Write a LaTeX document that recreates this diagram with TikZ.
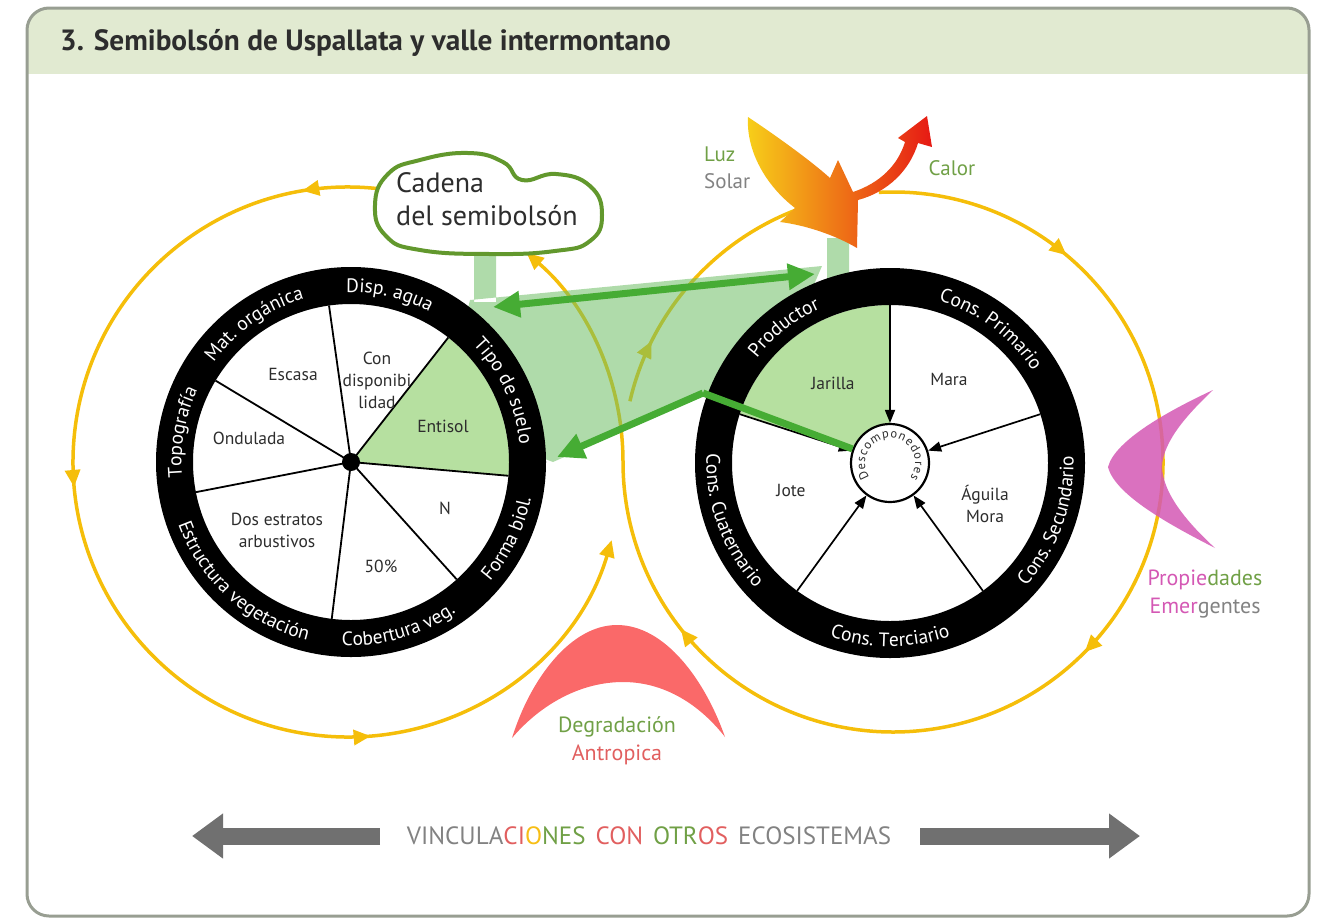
\documentclass[tikz,border=0pt]{standalone}
\usepackage{fontspec}
\setmainfont{PT Sans}
\usetikzlibrary{arrows.meta,decorations.text,decorations.markings}

\definecolor{titleband}{RGB}{225,234,209}
\definecolor{framegray}{RGB}{152,158,146}
\definecolor{flowyellow}{RGB}{245,190,10}
\definecolor{linkgreen}{RGB}{70,172,52}
\definecolor{zonegreen}{RGB}{110,190,100}
\definecolor{sectorgreen}{RGB}{182,224,160}
\definecolor{bubblegreen}{RGB}{98,152,45}
\definecolor{sunyellow}{RGB}{247,208,25}
\definecolor{sunorange}{RGB}{247,190,22}
\definecolor{sunred}{RGB}{230,25,20}
\definecolor{degred}{RGB}{250,105,105}
\definecolor{emmagenta}{RGB}{212,88,180}
\definecolor{textgray}{RGB}{45,45,45}
\definecolor{softgreen}{RGB}{112,160,70}
\definecolor{softgray}{RGB}{130,130,130}
\definecolor{softred}{RGB}{225,95,95}
\definecolor{arrowgray}{RGB}{112,112,112}

\newcommand{\ringfont}{\color{white}\fontsize{19.5}{19.5}\selectfont}
\newcommand{\sectfont}{\fontsize{17.5}{22}\selectfont}
\newcommand{\notefont}{\fontsize{22}{28}\selectfont}
% labels on the black rings
\newcommand{\cwlabel}[3]{\path[shift={(#1)}, decorate, decoration={text along path, text={|\ringfont|#3}, text align=center}] (#2+60:169.5) arc[start angle=#2+60, end angle=#2-60, radius=169.5];}
\newcommand{\ccwlabel}[3]{\path[shift={(#1)}, decorate, decoration={text along path, text={|\ringfont|#3}, text align=center}] (#2-60:183.5) arc[start angle=#2-60, end angle=#2+60, radius=183.5];}

\tikzset{
  flowline/.style={flowyellow, line width=3.5pt},
  flowhead/.style={-{Triangle[length=17pt,width=15pt]}},
  greenlink/.style={linkgreen, line width=7pt},
  linkhead/.style={-{Triangle[length=27pt,width=25pt]}},
  spokearrow/.style={line width=1.7pt, -{Triangle[length=13pt,width=10pt]}},
  sectortext/.style={font=\sectfont, text=textgray, align=center, inner sep=0pt},
  notetext/.style={font=\notefont, align=center, inner sep=0pt},
  widearrow/.style={arrowgray, line width=17pt, -{Triangle[length=31pt,width=43pt]}},
  decomp/.style={circle, draw, line width=2.2pt, fill=white, minimum size=78pt, inner sep=0pt}
}

\begin{document}
\begin{tikzpicture}[x=1pt,y=1pt]
\useasboundingbox (0,0) rectangle (1324,-919);

% frame
\begin{scope}
\clip[rounded corners=22pt] (27,-8) rectangle (1309,-916);
\fill[titleband] (27,-8) rectangle (1309,-74);
\end{scope}
\draw[framegray, line width=3pt, rounded corners=22pt] (27,-8) rectangle (1309,-916);
\node[anchor=base west, inner sep=0pt, text=textgray, font=\fontsize{29.3}{32}\selectfont\bfseries] (title) at (60,-50) {3. Semibolsón de Uspallata y valle intermontano};

% centres
\coordinate (lc) at (351,-462);
\coordinate (rc) at (890,-463);
\coordinate (lflow) at (348,-462);
\coordinate (rflow) at (893,-462);

% yellow loops
\draw[flowline, flowhead, shift={(lflow)}, postaction={decorate}, decoration={markings,
  mark=at position 0.06 with {\arrow{Triangle[length=17pt,width=15pt]}},
  mark=at position 0.39 with {\arrow{Triangle[length=17pt,width=15pt]}},
  mark=at position 0.735 with {\arrow{Triangle[length=17pt,width=15pt]}}}]
  (84:275) arc[start angle=84, end angle=343.5, radius=275];
\draw[flowline, flowhead, shift={(rflow)}, postaction={decorate}, decoration={markings,
  mark=at position 0.133 with {\arrow{Triangle[length=17pt,width=15pt]}},
  mark=at position 0.426 with {\arrow{Triangle[length=17pt,width=15pt]}},
  mark=at position 0.726 with {\arrow{Triangle[length=17pt,width=15pt]}}}]
  (93:270) arc[start angle=93, end angle=-180, radius=270]
  arc[start angle=0, end angle=49.5, radius=275];
% luz solar
\draw[flowline, shift={(rflow)}, postaction={decorate}, decoration={markings,
  mark=at position 0.22 with {\arrow{Triangle[length=17pt,width=15pt]}}}]
  (167:270) arc[start angle=167, end angle=105, radius=270];

% green zone between the wheels
\fill[zonegreen, opacity=0.55] (474,-248) rectangle (496,-302) (827,-238) rectangle (849,-280)
  (470,-300) -- (822,-266) -- (790,-340) -- (703,-396) -- (553,-462) -- (440,-420) -- cycle;

% left wheel
\fill[white] (lc) circle[radius=158];
\fill[sectorgreen] (lc) -- ++(52:158) arc[start angle=52, end angle=-5, radius=158] -- cycle;
\foreach \a in {98,52,-5,-48,-97,-169,149}
  \draw[line width=1.8pt] (lc) -- ++(\a:158);
\fill (lc) circle[radius=9];
\draw[line width=37pt] (lc) circle[radius=176.5];
\cwlabel{lc}{125}{Mat. orgánica}
\cwlabel{lc}{77}{Disp. agua}
\cwlabel{lc}{25}{Tipo de suelo}
\ccwlabel{lc}{-26}{Forma biol.}
\ccwlabel{lc}{-74}{Cobertura veg.}
\ccwlabel{lc}{-132}{Estructura vegetación}
\cwlabel{lc}{170}{Topografía}

\node[sectortext] (escasa) at (293,-374) {Escasa};
\node[sectortext] (condisp) at (377,-380) {Con\\disponibi\\lidad};
\node[sectortext] (entisol) at (443,-426) {Entisol};
\node[sectortext] (ondulada) at (249,-438) {Ondulada};
\node[sectortext] (nform) at (445,-508) {N};
\node[sectortext] (dosestratos) at (277,-530) {Dos estratos\\arbustivos};
\node[sectortext] (cober) at (381,-566) {50\%};

% right wheel
\fill[white] (rc) circle[radius=158];
\fill[sectorgreen] (rc) -- ++(90:158) arc[start angle=90, end angle=162, radius=158] -- cycle;
\node[decomp] (dsc) at (rc) {};
\foreach \a [count=\i] in {90,18,-54,-126,162} {
  \path (rc) ++(\a:158) coordinate (sp\i);
  \draw[spokearrow] (sp\i) -- (dsc);
}
\draw[line width=37pt] (rc) circle[radius=176.5];
\path[shift={(dsc)}, decorate, decoration={text along path, text={|\color{textgray}\fontsize{12.5}{12.5}\selectfont|Descomponedores}, text align=fit to path}]
  (215:25) arc[start angle=215, end angle=-36, radius=25];
\cwlabel{rc}{128}{Productor}
\cwlabel{rc}{53}{Cons. Primario}
\ccwlabel{rc}{-20}{Cons. Secundario}
\ccwlabel{rc}{-90}{Cons. Terciario}
\ccwlabel{rc}{-160}{Cons. Cuaternario}

\node[sectortext] (jarilla) at (833,-383) {Jarilla};
\node[sectortext] (mara) at (949,-379) {Mara};
\node[sectortext] (jote) at (791,-490) {Jote};
\node[sectortext] (aguila) at (985,-504) {Águila\\Mora};

% green links
\coordinate (linkl) at (493,-307);
\coordinate (linkr) at (815,-274);
\coordinate (gj) at (703,-393);
\coordinate (soilend) at (557,-457);
\draw[greenlink, {Triangle[length=27pt,width=25pt]}-{Triangle[length=27pt,width=25pt]}] (linkl) -- (linkr);
\draw[greenlink, linkhead] (gj) -- (soilend);
\draw[greenlink] (gj) -- (dsc);

% cadena bubble
\draw[bubblegreen, line width=4pt, fill=white] plot[smooth cycle, tension=0.8] coordinates {(375,-205) (388,-174) (420,-160) (468,-153) (503,-162) (522,-180) (556,-174) (590,-186) (602,-215) (590,-241) (555,-251) (490,-254) (420,-250) (386,-236)};
\node[anchor=west, align=left, inner sep=0pt, text=textgray, font=\fontsize{28}{33}\selectfont] (cadena) at (396,-199) {Cadena\\del semibolsón};

% sun
\shade[left color=sunyellow, middle color=sunorange, right color=sunred]
  (748,-117) .. controls (775,-135) and (810,-160) .. (830,-178)
  -- (838,-160) -- (853,-192)
  .. controls (880,-183) and (898,-165) .. (905,-142)
  -- (898,-138) -- (927,-116) -- (932,-147) -- (918,-143)
  .. controls (910,-170) and (888,-192) .. (858,-200)
  -- (857,-248)
  .. controls (835,-235) and (805,-225) .. (780,-222)
  -- (795,-208)
  .. controls (765,-185) and (746,-150) .. (748,-117) -- cycle;
\node[notetext, font=\fontsize{21}{27}\selectfont, align=left, anchor=west] (luz) at (704,-168) {\color{softgreen}Luz\\\color{softgray}Solar};
\node[notetext, font=\fontsize{21}{27}\selectfont, text=softgreen] (calor) at (952,-168) {Calor};

% degradacion
\fill[degred] (512,-738) .. controls (530,-680) and (570,-625) .. (617,-625)
  .. controls (665,-625) and (705,-680) .. (725,-737)
  .. controls (700,-705) and (665,-682) .. (623,-682)
  .. controls (580,-682) and (540,-705) .. (512,-738) -- cycle;
\node[notetext] (degr) at (617,-741) {\color{softgreen}Degradación\\\color{softred}Antropica};

% propiedades emergentes
\fill[emmagenta, fill opacity=0.85] (1213,-390) .. controls (1170,-410) and (1115,-440) .. (1108,-467)
  .. controls (1115,-495) and (1170,-525) .. (1215,-548)
  .. controls (1190,-525) and (1163,-495) .. (1162,-467)
  .. controls (1163,-440) and (1190,-412) .. (1213,-390) -- cycle;
\node[notetext] (prop) at (1205,-594) {{\color{emmagenta}Propie}{\color{softgreen}dades}\\{\color{emmagenta}Emer}{\color{softgray}gentes}};

% vinculaciones
\coordinate (wl0) at (380,-836);
\coordinate (wl1) at (192,-836);
\coordinate (wr0) at (920,-836);
\coordinate (wr1) at (1140,-836);
\draw[widearrow] (wl0) -- (wl1);
\draw[widearrow] (wr0) -- (wr1);
\node[inner sep=0pt, font=\fontsize{25}{25}\selectfont] (vinc) at (649,-836) {\color{softgray}VINCULA\color{softred}CI\color{sunorange}O\color{softgreen}NES\hspace{10pt}\color{softred}CON\hspace{10pt}\color{softgreen}OTR\color{softred}OS\hspace{10pt}\color{softgray}ECOSISTEMAS};

\end{tikzpicture}
\end{document}
